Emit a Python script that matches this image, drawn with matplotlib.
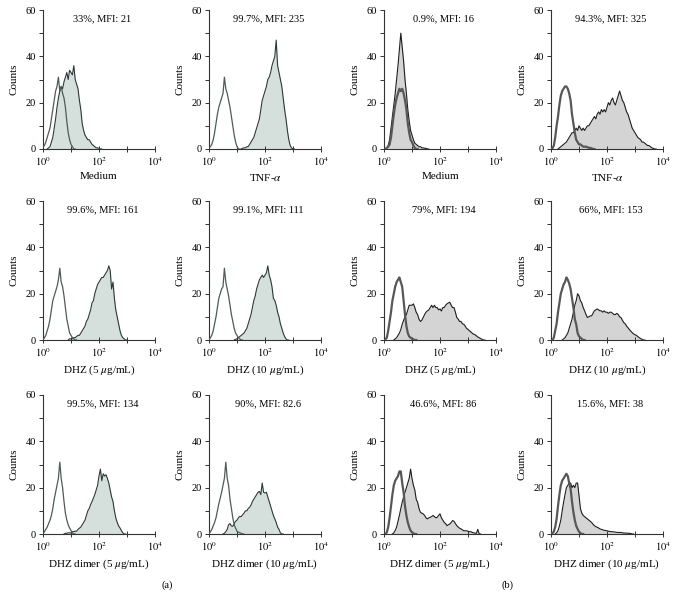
import numpy as np
import matplotlib.pyplot as plt

plt.rcParams['font.family'] = ['Liberation Serif', 'DejaVu Serif']
plt.rcParams['mathtext.fontset'] = 'stix'

# histogram channels: 20 per decade, counts
step = 0.05

# ---- panel (a) ----
a_medium_ctrl = [1, 1.5, 3, 5, 7, 9, 13, 17, 21, 25, 27, 31, 25, 27, 24, 22, 18, 12, 7, 4, 2, 1, 0]
a_medium_samp = [0.5, 1, 3, 5, 9, 13, 18, 22, 25, 27, 26, 29, 31, 33, 30, 34, 33, 32, 36, 30, 28, 26, 21, 17,
                 11, 8, 6, 5, 4, 4, 3, 2, 1.5, 1, 0.5, 0.5, 0.3, 0]
a_tnf_ctrl = [0.5, 1, 2, 4, 7, 11, 15, 18, 20, 22, 24, 31, 26, 24, 21, 18, 14, 10, 6, 3, 1, 0]
a_tnf_samp = [0.3, 0.5, 0.5, 1, 1, 2, 3, 4, 5, 7, 9, 11, 13, 17, 21, 23, 25, 27, 30, 31, 33, 36, 38, 40, 47,
              36, 33, 30, 27, 22, 17, 13, 8, 4, 1.5, 0.5, 0]
a_dhz5_ctrl = [1, 2, 4, 6, 9, 13, 17, 19, 21, 23, 26, 31, 25, 23, 19, 14, 9, 6, 3, 2, 1, 0.5, 0]
a_dhz5_samp = [0.5, 0.5, 0.5, 1, 1, 1.5, 2, 2, 3, 4, 5, 6, 8, 9, 11, 13, 16, 17, 20, 22, 24, 25, 26, 27, 27,
               28, 29, 30, 32, 30, 22, 25, 18, 13, 10, 7, 4, 2, 1, 0.5, 0]
a_dhz10_ctrl = [1, 2, 4, 7, 10, 14, 18, 20, 22, 23, 31, 25, 22, 19, 15, 11, 8, 5, 3, 2, 1, 0.5, 0]
a_dhz10_samp = [0.3, 0.5, 1, 1.5, 2, 2.5, 3, 4, 5, 7, 9, 11, 14, 17, 19, 22, 24, 26, 27, 28, 27, 28, 29, 32,
                28, 26, 23, 18, 17, 15, 12, 10, 7, 5, 3, 1.5, 0.5, 0]
a_dim5_ctrl = [1, 2, 3, 4.5, 6, 8, 11, 15, 18, 21, 24, 31, 24, 20, 14, 9, 6, 4, 2.6, 1.5, 0.5, 0]
a_dim5_samp = [0.3, 0.3, 0.5, 0.5, 0.5, 1, 1, 1.2, 1.2, 2, 2.5, 3, 4, 5, 6, 8, 10, 11, 12.7, 14, 15.5, 17, 19,
               21, 25, 28, 23, 26, 25, 25.6, 24, 22, 19, 16, 14, 10, 7, 5, 3.5, 2.6, 1.5, 0.5, 0]
a_dim10_ctrl = [1, 2, 3.5, 5, 7, 10, 13, 15.5, 18, 21, 24, 31, 24, 21, 15, 11, 7, 4, 2.5, 1.2, 0.8, 0.5, 0.3, 0]
a_dim10_samp = [0.3, 1, 2, 4, 4.5, 3.5, 3.3, 4.5, 5.5, 6, 7, 7.6, 7.5, 8.3, 9, 10, 10, 11, 11.5, 12.5, 14, 15,
                16, 17, 18, 18.4, 17, 22, 18, 17.7, 18, 16, 14, 12, 10, 8, 6.5, 5, 3, 2, 0.5, 0]

# ---- panel (b) ----
b_medium_ctrl = [0.5, 1, 2, 5, 10, 15, 19, 22, 24, 26, 25, 26, 24, 21, 17, 11, 7, 4, 3, 1.5, 0.5, 0]
b_medium_samp = [0.5, 1.5, 4, 9, 14, 19, 24, 30, 36, 43, 50, 44, 38, 30, 24, 17, 12, 8, 6, 4, 2.5, 2, 1.5, 1,
                 1, 0.5, 0.5, 0.3, 0.3, 0]
b_tnf_ctrl = [0.3, 1.4, 5, 10, 14, 19, 23, 25, 26, 27, 27, 26, 24, 21, 15, 11, 7, 4, 3, 2, 2, 1.5, 1, 1, 1,
              0.8, 0.5, 0.5, 0.3, 0]
b_tnf_samp = [0.5, 1, 1.5, 2, 2.5, 3, 4, 5, 6, 7, 7, 8, 9, 8, 10, 9, 8, 9, 8, 9, 10, 10, 11, 12, 13, 14, 13,
              15, 16, 15, 17, 16, 17, 16, 18, 20, 19, 21, 22, 20, 19, 21, 23, 25, 23, 21, 20, 18, 16, 15, 13,
              11, 9, 8, 7, 6, 5, 4.5, 4, 3, 3, 2.5, 2, 1.5, 1.5, 1, 0.5, 0.3, 0]
b_dhz5_ctrl = [0.3, 1, 4, 8, 12, 17, 20, 23, 25, 26, 27, 25, 23, 17, 11, 6, 3, 1.5, 1, 0.5, 0.3, 0]
b_dhz5_samp = [0.5, 1, 2, 3, 4.5, 6.8, 8.5, 10, 11, 13, 15, 15, 15, 15.6, 14, 12, 11, 9, 8, 8.5, 9.7, 11, 12,
               12.6, 13, 14, 15, 14, 15, 14, 14, 13, 13.4, 12.5, 14, 14, 15, 15.6, 16, 16.3, 15, 14, 14, 12,
               9.7, 9, 8, 8, 7, 6.8, 6, 5, 4.6, 4, 3.5, 3, 2.5, 2.3, 1.8, 1.3, 1, 0.6, 0.3, 0]
b_dhz10_ctrl = [1, 4, 7, 12, 16, 20, 22, 24, 25, 27, 26, 24.4, 22, 18, 14, 9, 6.8, 3, 1.6, 1, 0.5, 0]
b_dhz10_samp = [0.5, 1, 2, 3, 5, 7, 9, 12, 15, 17, 20, 19, 17, 16, 14, 12.6, 11, 9.7, 10, 10.4, 10.4, 11.5,
                12.6, 13, 13.4, 13, 12.6, 12.6, 12, 12.6, 12, 12, 11.5, 12, 12, 11.5, 11, 11, 11.5, 11, 10,
                9.7, 8.5, 7.5, 7, 6, 5.3, 4.5, 3.8, 3.2, 2.6, 2.3, 2, 1.5, 1, 0.6, 0.3, 0]
b_dim5_ctrl = [0.7, 3, 7, 12, 17, 21, 23, 24, 25, 27, 27, 22, 18, 12, 8, 5, 3, 1.5, 0.7, 0.3, 0]
b_dim5_samp = [0.5, 1.5, 3, 5.5, 8, 11, 13.7, 16, 18, 20, 22, 24, 28, 24, 21, 19, 15, 13.7, 11, 9.4, 9, 8.7,
               8, 7, 6.5, 7, 7.2, 7.5, 8, 7.5, 7, 7.2, 8, 8.7, 7, 6, 5, 4.5, 3.6, 4, 4.3, 5, 5.8, 5.5, 4.5,
               3.6, 3, 2.5, 2.2, 1.8, 1.4, 1.4, 1.4, 1.2, 1, 1, 0.7, 0.5, 0.4, 0.3, 2, 0]
b_dim10_ctrl = [0.3, 1, 3, 6.5, 12, 17, 21, 23, 24, 25, 26, 25, 22, 19.5, 14, 9.4, 6, 3.5, 2.2, 1, 0.4, 0]
b_dim10_samp = [0.5, 1.5, 3.5, 6, 10, 13.7, 17, 20, 21, 22, 22, 20, 21, 20, 22, 22, 16.6, 11, 9, 8, 7.5, 7,
                6.5, 6, 5.5, 5, 4.2, 3.6, 3.2, 2.9, 2.6, 2.2, 2, 1.8, 1.6, 1.5, 1.4, 1.2, 1.1, 1, 1, 0.9, 0.8,
                0.7, 0.7, 0.6, 0.7, 0.5, 0.4, 0.4, 0.4, 0.3, 0.3, 0.2, 0]

# grid order: row by row, (a) columns then (b) columns
ctrl_curves = [a_medium_ctrl, a_tnf_ctrl, b_medium_ctrl, b_tnf_ctrl,
               a_dhz5_ctrl, a_dhz10_ctrl, b_dhz5_ctrl, b_dhz10_ctrl,
               a_dim5_ctrl, a_dim10_ctrl, b_dim5_ctrl, b_dim10_ctrl]
samp_curves = [a_medium_samp, a_tnf_samp, b_medium_samp, b_tnf_samp,
               a_dhz5_samp, a_dhz10_samp, b_dhz5_samp, b_dhz10_samp,
               a_dim5_samp, a_dim10_samp, b_dim5_samp, b_dim10_samp]
# first channel (log10) of every curve, same order
ctrl_starts = [0.0, 0.0, 0.1, 0.05,
               0.05, 0.05, 0.05, 0.1,
               0.05, 0.05, 0.1, 0.05]
samp_starts = [0.2, 1.2, 0.1, 0.3,
               0.95, 0.95, 0.4, 0.45,
               0.8, 0.55, 0.35, 0.2]
notes = ['33%, MFI: 21', '99.7%, MFI: 235', '0.9%, MFI: 16', '94.3%, MFI: 325',
         '99.6%, MFI: 161', '99.1%, MFI: 111', '79%, MFI: 194', '66%, MFI: 153',
         '99.5%, MFI: 134', '90%, MFI: 82.6', '46.6%, MFI: 86', '15.6%, MFI: 38']
xlabels = ['Medium', r'TNF-$\alpha$', 'Medium', r'TNF-$\alpha$',
           r'DHZ (5 $\mu$g/mL)', r'DHZ (10 $\mu$g/mL)', r'DHZ (5 $\mu$g/mL)', r'DHZ (10 $\mu$g/mL)',
           r'DHZ dimer (5 $\mu$g/mL)', r'DHZ dimer (10 $\mu$g/mL)',
           r'DHZ dimer (5 $\mu$g/mL)', r'DHZ dimer (10 $\mu$g/mL)']

W, H = 678, 608
fig = plt.figure(figsize=(W / 100, H / 100), dpi=100)

col_left = [43, 209, 384, 551]
row_top = [10, 201, 395]
aw, ah = 112, 139

for i in range(12):
    r, c = divmod(i, 4)
    ax = fig.add_axes([col_left[c] / W, 1 - (row_top[r] + ah) / H, aw / W, ah / H])
    side_b = c >= 2
    fill_col = '#d4d4d4' if side_b else '#d5dfdb'
    edge_col = '#1e1e1e' if side_b else '#2b3a37'
    ctrl_col = '#575757' if side_b else '#4c5c59'
    ctrl_lw = 1.6 if side_b else 0.9

    ys = np.r_[0, samp_curves[i], 0]
    xs = 10 ** (samp_starts[i] + step * np.arange(-1, len(ys) - 1))
    yc = np.r_[0, ctrl_curves[i], 0]
    xc = 10 ** (ctrl_starts[i] + step * np.arange(-1, len(yc) - 1))

    ax.fill_between(xs, ys, color=fill_col, lw=0, zorder=1)
    ax.plot(xs, ys, color=edge_col, lw=0.8, zorder=2)
    ax.plot(xc, yc, color=ctrl_col, lw=ctrl_lw, zorder=3)

    ax.set_xscale('log')
    ax.set_xlim(1, 1e4)
    ax.set_ylim(0, 60)
    ax.set_xticks([1, 10, 100, 1000, 10000])
    ax.set_xticklabels([r'$10^0$', '', r'$10^2$', '', r'$10^4$'])
    ax.xaxis.set_minor_locator(plt.NullLocator())
    ax.set_yticks([0, 10, 20, 30, 40, 50, 60])
    ax.set_yticklabels(['0', '', '20', '', '40', '', '60'])
    ax.tick_params(labelsize=7.5, length=3, width=0.7, color='#333333', pad=2)
    ax.tick_params(axis='x', direction='inout', length=5)
    for s in ['top', 'right']:
        ax.spines[s].set_visible(False)
    for s in ['left', 'bottom']:
        ax.spines[s].set_linewidth(0.8)
        ax.spines[s].set_color('#333333')
    ax.set_ylabel('Counts', fontsize=8, labelpad=5)
    ax.set_xlabel(xlabels[i], fontsize=8, labelpad=3)
    ax.text(0.53, 0.94, notes[i], transform=ax.transAxes, ha='center', va='center', fontsize=7.5)

fig.text(167 / W, 1 - 585 / H, '(a)', ha='center', va='center', fontsize=7.5)
fig.text(507 / W, 1 - 585 / H, '(b)', ha='center', va='center', fontsize=7.5)

fig.savefig('out.png', dpi=100)
